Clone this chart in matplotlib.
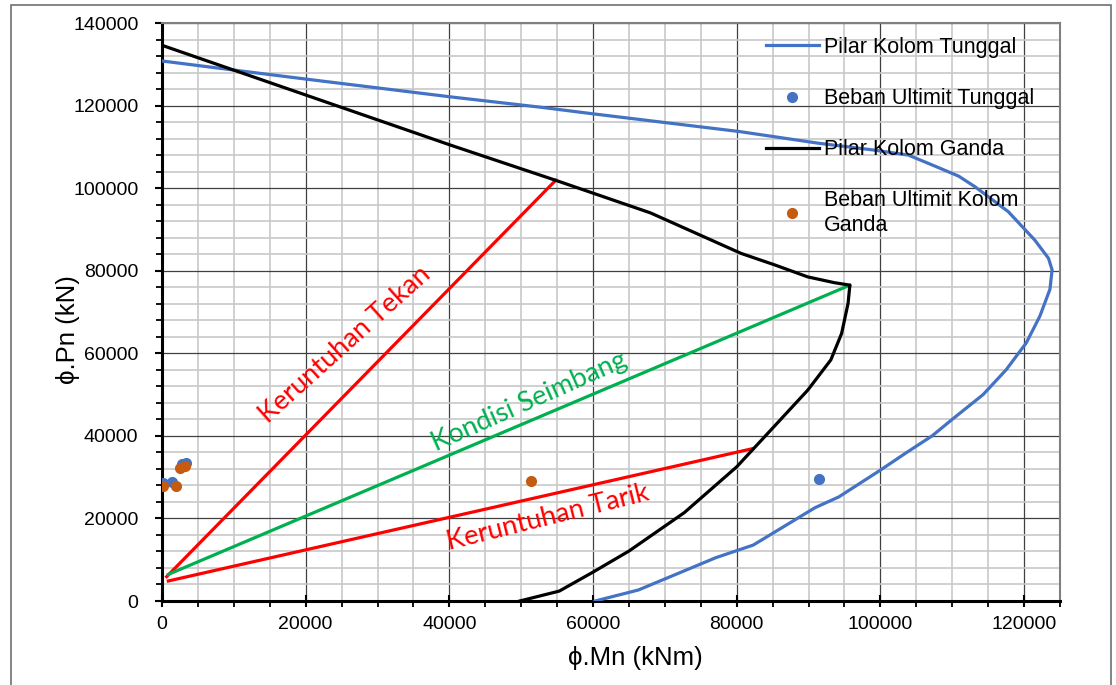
import matplotlib
matplotlib.use("Agg")
import matplotlib.pyplot as plt
from matplotlib.ticker import MultipleLocator
from matplotlib.patches import Rectangle

# ---- data ----
tunggal_M = [0, 10000, 20100, 40200, 52700, 60000, 80400, 91300, 99200, 103900,
             107500, 110900, 113200, 117800, 121500, 123400, 123900, 123600,
             122200, 120300, 117500, 114300, 110000, 107200, 103500, 100000,
             94200, 90900, 82300, 77100, 66300, 60300]
tunggal_P = [130800, 128600, 126400, 122100, 119600, 118000, 113700, 110900,
             109200, 108000, 105400, 102900, 100300, 94300, 87400, 83000, 80200,
             75500, 69000, 62500, 56000, 50000, 44000, 40000, 35800, 31700,
             25200, 22600, 13550, 10500, 2660, 0]

ganda_M = [0, 20100, 40200, 54800, 68000, 80600, 85300, 89900, 93600, 95750,
           95500, 94600, 93100, 89900, 84800, 80000, 72700, 65000, 60000,
           55300, 49800]
ganda_P = [134600, 122500, 110400, 101900, 94000, 84200, 81400, 78500, 77100,
           76500, 72100, 64800, 58400, 51100, 41500, 32500, 21400, 12100,
           7000, 2400, 0]

beban_tunggal_M = [100, 1350, 2750, 3350, 91500]
beban_tunggal_P = [28500, 28900, 33100, 33350, 29600]
beban_ganda_M = [100, 1950, 2500, 3200, 51300]
beban_ganda_P = [27850, 27900, 32300, 32700, 29000]

tekan_M = [650, 54800]
tekan_P = [5900, 101900]
seimbang_M = [880, 95750]
seimbang_P = [6450, 76500]
tarik_M = [880, 82200]
tarik_P = [4850, 36900]

x_ticks = [0, 20000, 40000, 60000, 80000, 100000, 120000]
y_ticks = [0, 20000, 40000, 60000, 80000, 100000, 120000, 140000]

# ---- figure ----
W, H = 1116, 685
fig = plt.figure(figsize=(W / 100, H / 100), dpi=100)
ax = fig.add_axes([162 / W, 1 - 601 / H, (1060 - 162) / W, (601 - 23) / H])

blue = "#4472C4"
brown = "#C55A11"

ax.plot(tunggal_M, tunggal_P, color=blue, lw=2.3, label="Pilar Kolom Tunggal", zorder=4)
ax.plot(beban_tunggal_M, beban_tunggal_P, "o", color=blue, ms=7, label="Beban Ultimit Tunggal", zorder=5)
ax.plot(ganda_M, ganda_P, color="black", lw=2.3, label="Pilar Kolom Ganda", zorder=4)
ax.plot(beban_ganda_M, beban_ganda_P, "o", color=brown, ms=7, label="Beban Ultimit Kolom\nGanda", zorder=5)

ax.plot(tekan_M, tekan_P, color="#FF0000", lw=2.3, zorder=3)
ax.plot(seimbang_M, seimbang_P, color="#00B050", lw=2.3, zorder=3)
ax.plot(tarik_M, tarik_P, color="#FF0000", lw=2.3, zorder=3)

lab_font = ["Lato", "DejaVu Sans"]
ax.text(25500, 62000, "Keruntuhan Tekan", color="#FF0000", rotation=42,
        ha="center", va="center", fontsize=19.5, family=lab_font,
        rotation_mode="anchor", zorder=6)
ax.text(51100, 48200, "Kondisi Seimbang", color="#00B050", rotation=24,
        ha="center", va="center", fontsize=19.5, family=lab_font,
        rotation_mode="anchor", zorder=6)
ax.text(53700, 20300, "Keruntuhan Tarik", color="#FF0000", rotation=14,
        ha="center", va="center", fontsize=19.5, family=lab_font,
        rotation_mode="anchor", zorder=6)

ax.set_xlim(0, 125000)
ax.set_ylim(0, 140000)
ax.set_xticks(x_ticks)
ax.set_yticks(y_ticks)
ax.xaxis.set_minor_locator(MultipleLocator(5000))
ax.yaxis.set_minor_locator(MultipleLocator(4000))

ax.grid(which="major", color="#404040", lw=0.9, zorder=1)
ax.grid(which="minor", color="#c8c8c8", lw=1.2, zorder=0)
ax.set_axisbelow(True)

for s in ["left", "bottom"]:
    ax.spines[s].set_color("black")
    ax.spines[s].set_linewidth(2.2)
for s in ["top", "right"]:
    ax.spines[s].set_color("#808080")
    ax.spines[s].set_linewidth(1.5)

sans = ["Liberation Sans", "DejaVu Sans"]
ax.tick_params(axis="y", which="major", direction="out", length=5, width=1.5, pad=12,
               labelsize=14)
ax.tick_params(axis="y", which="minor", direction="out", length=4, width=1.3)
ax.tick_params(axis="x", which="major", direction="inout", length=8, width=1.5, pad=7,
               labelsize=14)
ax.tick_params(axis="x", which="minor", direction="out", length=4, width=1.3)
for t in ax.get_yticklabels() + ax.get_xticklabels():
    t.set_family(sans)

fig.text(635 / W, 1 - 658 / H, "ϕ.Mn (kNm)", ha="center", va="center",
         fontsize=18.5, family=sans)
fig.text(68 / W, 1 - 330 / H, "ϕ.Pn (kN)", ha="center", va="center",
         rotation=90, fontsize=18.5, family=sans)

leg = ax.legend(loc="upper left", bbox_to_anchor=(766 / W, 1 - 37 / H),
                bbox_transform=fig.transFigure, frameon=False,
                prop={"family": sans, "size": 15.5},
                handlelength=2.45, handletextpad=0.25, labelspacing=1.4,
                borderpad=0, borderaxespad=0)

fig.add_artist(Rectangle((11 / W, -0.01), (1111 - 11) / W, 1 - 5 / H + 0.01,
                         transform=fig.transFigure, fill=False,
                         edgecolor="#707070", lw=1.2))

fig.savefig("out.png", dpi=100)
